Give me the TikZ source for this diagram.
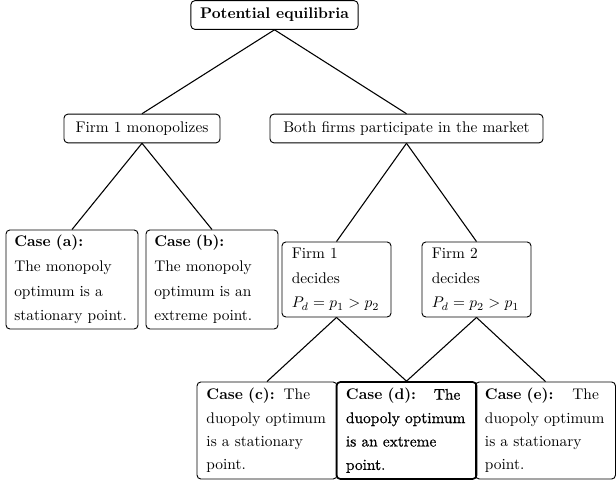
\documentclass[tikz,border=0pt]{standalone}
\usepackage{fontspec}
\newfontfamily\dfont{Latin Modern Roman}[FakeBold=0.7]
\begin{document}
\begin{tikzpicture}[x=0.6494pt,y=-0.6494pt,
  box/.style={draw, rounded corners=2.5pt, line width=0.6pt, inner ysep=0pt},
  single/.style={box, font=\fontsize{10}{12}\selectfont, minimum height=18.6pt, inner xsep=0pt},
  casebox/.style={box, font=\fontsize{10}{16}\selectfont, align=left, text width=75pt,
    inner xsep=5.35pt, minimum height=64.3pt},
  firmbox/.style={box, font=\fontsize{10}{16}\selectfont, align=left, text width=58pt,
    inner xsep=6.4pt, minimum height=48.7pt},
  duobox/.style={box, font=\fontsize{10}{15.2}\selectfont, align=left, text width=78.6pt,
    inner xsep=6.15pt, minimum height=63pt},
  link/.style={line width=0.7pt}]
\useasboundingbox (0,0) rectangle (616,485);
\node[single, minimum width=108.5pt] (root) at (274.5,15) {\textbf{Potential equilibria}};
\node[single, minimum width=101.3pt] (mono) at (142,128.5) {Firm 1 monopolizes};
\node[single, minimum width=177.3pt] (both) at (406.5,128.5) {Both firms participate in the market};
\node[casebox] (ca) at (72,279.5) {\textbf{Case (a):}\\ The monopoly optimum is a stationary point.};
\node[casebox] (cb) at (212,279.5) {\textbf{Case (b):}\\ The monopoly optimum is an extreme point.};
\node[firmbox] (f1) at (336.5,279.5) {Firm 1 decides $P_d=p_1>p_2$};
\node[firmbox] (f2) at (476.5,279.5) {Firm 2 decides $P_d=p_2>p_1$};
\node[duobox] (cc) at (267,430.5) {\textbf{Case (c):}\hspace{5.8pt}The duopoly optimum is a stationary point.};
\node[duobox, line width=1.1pt] (cd) at (406.5,430.5) {\textbf{Case (d):}\hspace{11.5pt}{\dfont The duopoly optimum is an extreme point.}};
\node[duobox] (ce) at (545.5,430.5) {\textbf{Case (e):}\hspace{12.3pt}The duopoly optimum is a stationary point.};
\draw[link] (root.south) -- (mono.north);
\draw[link] (root.south) -- (both.north);
\draw[link] (mono.south) -- (ca.north);
\draw[link] (mono.south) -- (cb.north);
\draw[link] (both.south) -- (f1.north);
\draw[link] (both.south) -- (f2.north);
\draw[link] (f1.south) -- (cc.north);
\draw[link] (f1.south) -- (cd.north);
\draw[link] (f2.south) -- (cd.north);
\draw[link] (f2.south) -- (ce.north);
\end{tikzpicture}
\end{document}
